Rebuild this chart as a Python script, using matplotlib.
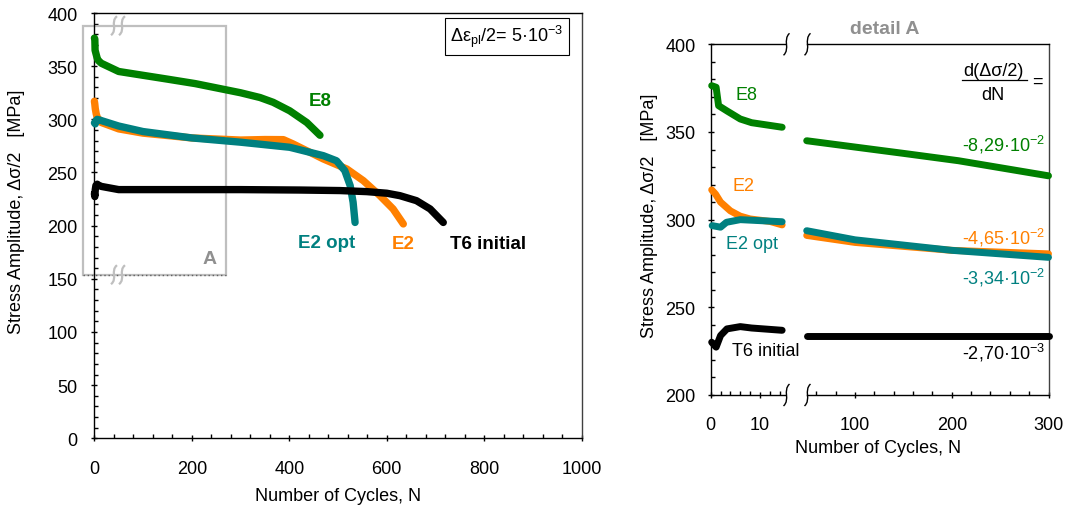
import numpy as np
import matplotlib
matplotlib.use('Agg')
import matplotlib.pyplot as plt
from matplotlib.path import Path
from matplotlib.patches import PathPatch, Rectangle
from matplotlib.lines import Line2D
import matplotlib.ticker as mt

plt.rcParams['font.family'] = ['Liberation Sans', 'DejaVu Sans']
plt.rcParams['mathtext.fontset'] = 'custom'
plt.rcParams['mathtext.rm'] = 'Liberation Sans'
plt.rcParams['mathtext.it'] = 'Liberation Sans:italic'
plt.rcParams['mathtext.bf'] = 'Liberation Sans:bold'
plt.rcParams['mathtext.default'] = 'regular'

# ---------------- data ----------------
names = ['E8', 'E2', 'E2 opt', 'T6 initial']
colors = ['#008000', '#FF8000', '#008080', '#000000']

e8_n = [0.2, 1.1, 1.6, 3.3, 6, 8.3, 14.5, 50, 100, 150, 207, 300, 340, 367, 401, 436, 463]
e8_s = [376.4, 375.5, 365, 362, 357.4, 355.3, 352.7, 345, 341.4, 337.8, 333.6, 325, 320.5, 316, 308, 297, 285]

e2_n = [0.2, 1, 2, 4, 6, 8, 12, 14.5, 50, 100, 200, 300, 350, 388, 408, 470, 518, 552, 586, 613, 634]
e2_s = [317, 314.5, 310, 305, 302, 300.4, 299, 297, 291, 287, 282.5, 280.5, 281, 280.9, 276.8, 262.7, 253.3, 242.3, 228.2, 215.7, 201.6]

e2opt_n = [0.3, 2, 3.2, 6, 14.5, 50, 100, 200, 300, 401, 470, 497, 514, 525, 531, 535]
e2opt_s = [296.6, 295.7, 298.5, 300, 298.8, 293.7, 288.5, 282.5, 278.5, 273.7, 265.8, 261, 251.7, 237.6, 222, 203]

t6_n = [0.2, 1.1, 2, 3.3, 6, 8.3, 14.5, 50, 300, 422, 504, 559, 600, 627, 661, 689, 716]
t6_s = [230.1, 227.3, 233.9, 237.7, 239, 238.2, 236.9, 233.9, 233.9, 233.5, 233, 232, 230.5, 228.2, 223.5, 215.7, 203]

slope_labels = ['-8,29·10$^{-2}$', '-4,65·10$^{-2}$', '-3,34·10$^{-2}$', '-2,70·10$^{-3}$']

series_n = [e8_n, e2_n, e2opt_n, t6_n]
series_s = [e8_s, e2_s, e2opt_s, t6_s]

# ---------------- figure ----------------
W, H = 1068, 510
fig = plt.figure(figsize=(W / 100, H / 100), dpi=100)


def fx(x):
    return x / W


def fy(y):
    return 1 - y / H


def style_ticks(ax, xpad, ypad):
    ax.tick_params(which='major', direction='inout', length=5, width=1.0,
                   labelsize=13, top=False, right=False)
    ax.tick_params(which='minor', direction='in', length=3, width=1.0,
                   top=False, right=False)
    ax.tick_params(axis='x', which='major', pad=xpad)
    ax.tick_params(axis='y', which='major', pad=ypad)
    for sp in ax.spines.values():
        sp.set_linewidth(1.0)


# ---- left panel ----
axL = fig.add_axes([fx(94.3), fy(439.3), 487.4 / W, 425.3 / H])
axL.set_xlim(0, 1000)
axL.set_ylim(0, 400)
axL.xaxis.set_major_locator(mt.MultipleLocator(200))
axL.xaxis.set_minor_locator(mt.MultipleLocator(40))
axL.yaxis.set_major_locator(mt.MultipleLocator(50))
axL.yaxis.set_minor_locator(mt.MultipleLocator(10))
style_ticks(axL, 13.0, 9.5)
axL.spines['right'].set_color('#404040')

for n, s, c in zip(series_n, series_s, colors):
    axL.plot(n, s, color=c, lw=5.3, solid_capstyle='round', solid_joinstyle='round',
             clip_on=False, zorder=3)

# box A
boxA = Rectangle((-24, 154), 294, 234, fill=False, ec='#bfbfbf', lw=1.6,
                 clip_on=False, zorder=2)
axL.add_patch(boxA)
axL.plot([-24, 270], [154, 154], ls=(0, (1, 2)), color='#606060', lw=1.0,
         clip_on=False, zorder=2)
axL.text(236, 169, 'A', color='#909090', fontsize=14, fontweight='bold',
         ha='center', va='center')

lab_pos = [(463, 317.5), (633, 182.8), (477, 184), (808, 183.4)]
for (x, y), t, c in zip(lab_pos, names, colors):
    axL.text(x, y, t, color=c, fontsize=13.5, fontweight='bold', ha='center', va='center')

axL.text(0.8467, 0.9454, r'Δε$_{pl}$/2= 5·10$^{-3}$', transform=axL.transAxes,
         ha='center', va='center', fontsize=13,
         bbox=dict(boxstyle='square,pad=0.3', fc='white', ec='black', lw=0.8))

fig.text(fx(338), fy(497), 'Number of Cycles, N', ha='center', va='center', fontsize=13)
fig.text(fx(17), fy(212), 'Stress Amplitude, Δσ/2   [MPa]', rotation=90,
         ha='center', va='center', fontsize=13)


# ---- break marks ----
def s_break(xp, yp, h, color, lw):
    top = yp - h / 2
    bot = yp + h / 2
    verts = [(xp + 3, top), (xp - 4, top + h * 0.3), (xp + 4, bot - h * 0.3), (xp - 3, bot)]
    verts = [(fx(a), fy(b)) for a, b in verts]
    p = Path(verts, [Path.MOVETO, Path.CURVE4, Path.CURVE4, Path.CURVE4])
    fig.add_artist(PathPatch(p, fc='none', ec=color, lw=lw, transform=fig.transFigure,
                             zorder=5))


for xb in (114, 122):
    s_break(xb, 26.7, 19, '#bfbfbf', 1.6)
    s_break(xb, 275.7, 19, '#bfbfbf', 1.6)

# ---- right panel (detail A) ----
y_top, y_bot = 45.3, 396
axR1 = fig.add_axes([fx(710.7), fy(y_bot), (784.6 - 710.7) / W, (y_bot - y_top) / H])
axR2 = fig.add_axes([fx(806.7), fy(y_bot), (1048.5 - 806.7) / W, (y_bot - y_top) / H])
for ax in (axR1, axR2):
    ax.set_ylim(200, 400)
    ax.yaxis.set_major_locator(mt.MultipleLocator(50))
    ax.yaxis.set_minor_locator(mt.MultipleLocator(10))
    style_ticks(ax, 12.5, 8.5)
axR1.set_xlim(0, 15)
axR1.xaxis.set_major_locator(mt.MultipleLocator(10))
axR1.xaxis.set_minor_locator(mt.MultipleLocator(2))
axR1.spines['right'].set_visible(False)
axR2.set_xlim(50, 300)
axR2.xaxis.set_major_locator(mt.FixedLocator([100, 200, 300]))
axR2.xaxis.set_minor_locator(mt.FixedLocator(np.arange(60, 300, 20)))
axR2.spines['left'].set_visible(False)
axR2.spines['right'].set_color('#404040')
axR2.tick_params(axis='y', which='both', left=False, labelleft=False)

for n, s, c in zip(series_n, series_s, colors):
    n = np.asarray(n, float)
    s = np.asarray(s, float)
    m1 = n <= 15
    m2 = (n >= 50) & (n <= 300)
    axR1.plot(n[m1], s[m1], color=c, lw=5, solid_capstyle='round',
              solid_joinstyle='round', clip_on=False, zorder=3)
    axR2.plot(n[m2], s[m2], color=c, lw=5, solid_capstyle='round',
              solid_joinstyle='round', clip_on=False, zorder=3)

for xb in (786.5, 807.5):
    s_break(xb, 45.3, 22, 'black', 1.0)
    s_break(xb, 396, 22, 'black', 1.0)

fig.text(fx(885), fy(30), 'detail A', color='#909090', fontsize=14, fontweight='bold',
         ha='center', va='center')

rlab_pos = [(746.7, 96), (744, 186.7), (751.7, 244.3), (766, 351.7)]
for (x, y), t, c in zip(rlab_pos, names, colors):
    fig.text(fx(x), fy(y), t, color=c, fontsize=13, ha='center', va='center')

slope_y = [145, 238, 278, 353]
for y, t, c in zip(slope_y, slope_labels, colors):
    fig.text(fx(1045), fy(y), t, color=c, fontsize=13, ha='right', va='center')

fig.text(fx(993.3), fy(71.7), 'd(Δσ/2)', fontsize=13, ha='center', va='center')
fig.text(fx(993.3), fy(95), 'dN', fontsize=13, ha='center', va='center')
fig.add_artist(Line2D([fx(961.7), fx(1026.7)], [fy(81), fy(81)], color='black', lw=0.9,
                      transform=fig.transFigure))
fig.text(fx(1037), fy(82), '=', fontsize=13, ha='center', va='center')

fig.text(fx(878), fy(449), 'Number of Cycles, N', ha='center', va='center', fontsize=13)
fig.text(fx(649), fy(216), 'Stress Amplitude, Δσ/2   [MPa]', rotation=90,
         ha='center', va='center', fontsize=13)

fig.savefig('out.png', dpi=100)
